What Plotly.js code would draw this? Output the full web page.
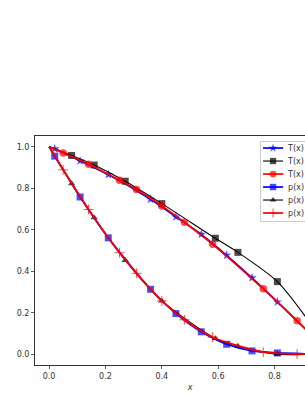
<!DOCTYPE html>
<html>
<head>
<meta charset="utf-8">
<script src="https://cdn.plot.ly/plotly-3.0.1.min.js"></script>
<style>
html,body{margin:0;padding:0;overflow:hidden;background:#fff;}
#chart{width:400px;height:394px;}
</style>
</head>
<body>
<div id="chart"></div>
<script>
// T(x), blue stars
const xTBlue = [0, 0.02, 0.11, 0.21, 0.36, 0.45, 0.54, 0.63, 0.72, 0.81, 0.95, 1.0];
const yTBlue = [1, 0.99, 0.932, 0.866, 0.747, 0.662, 0.578, 0.477, 0.368, 0.252, 0.068, 0.0];
// T(x), black squares
const xTBlack = [0, 0.08, 0.16, 0.27, 0.40, 0.59, 0.67, 0.81, 0.95, 1.0];
const yTBlack = [1, 0.958, 0.912, 0.834, 0.726, 0.559, 0.491, 0.350, 0.105, 0.0];
// T(x), red circles
const xTRed = [0, 0.05, 0.14, 0.25, 0.31, 0.40, 0.48, 0.58, 0.76, 0.88, 1.0];
const yTRed = [1, 0.970, 0.916, 0.839, 0.794, 0.715, 0.636, 0.530, 0.315, 0.161, 0.0];
// p(x), blue squares
const xPBlue = [0, 0.02, 0.11, 0.21, 0.36, 0.45, 0.54, 0.63, 0.72, 0.81, 0.95, 1.0];
const yPBlue = [1, 0.955, 0.758, 0.561, 0.313, 0.196, 0.108, 0.048, 0.016, 0.006, 0.001, 0.0];
// p(x), black triangles
const xPBlack = [0, 0.08, 0.16, 0.27, 0.40, 0.59, 0.67, 0.81, 0.95, 1.0];
const yPBlack = [1, 0.823, 0.658, 0.453, 0.257, 0.076, 0.039, 0.0, 0.0, 0.0];
// p(x), red pluses
const xPRed = [0, 0.05, 0.14, 0.25, 0.31, 0.40, 0.48, 0.58, 0.76, 0.88, 1.0];
const yPRed = [1, 0.889, 0.698, 0.489, 0.390, 0.257, 0.166, 0.082, 0.010, 0.001, 0.0];

const names = ["T(x)", "T(x)", "T(x)", "p(x)", "p(x)", "p(x)"];
const xTicks = [0, 0.2, 0.4, 0.6, 0.8, 1.0];
const yTicks = [0, 0.2, 0.4, 0.6, 0.8, 1.0];

function sizes(xs, s) { return xs.map((v, i) => i === 0 ? 0 : s); }

function tr(x, y, name, color, sym, msize, lw, extra) {
  const t = {
    x: x, y: y, name: name, type: 'scatter', mode: 'lines+markers',
    line: {color: color, width: lw, shape: 'spline', smoothing: 0.7},
    marker: {symbol: sym, size: sizes(x, msize), color: color, line: {width: 0}}
  };
  if (extra) Object.assign(t.marker, extra);
  return t;
}

const data = [
  tr(xTBlue, yTBlue, names[0], '#0000ff', 'star', 7, 1.7),
  tr(xTBlack, yTBlack, names[1], '#000000', 'square', 7, 1.1),
  tr(xTRed, yTRed, names[2], '#ff0000', 'circle', 7.5, 1.7),
  tr(xPBlue, yPBlue, names[3], '#0000ff', 'square', 7, 1.7),
  tr(xPBlack, yPBlack, names[4], '#000000', 'triangle-up', 6.5, 1.1),
  tr(xPRed, yPRed, names[5], '#ff0000', 'cross-thin', 7, 1.7, {line: {width: 1, color: '#ff0000'}})
];

const axisBase = {
  showgrid: false, zeroline: false, showline: true, mirror: true,
  linecolor: '#333', linewidth: 1,
  ticks: 'outside', ticklen: 3, tickwidth: 0.8, tickcolor: '#333',
  tickfont: {family: 'DejaVu Sans', size: 8, color: '#333'},
  tickformat: '.1f'
};

const layout = {
  width: 400, height: 394,
  margin: {l: 35, r: 55, t: 136, b: 29},
  paper_bgcolor: '#fff', plot_bgcolor: '#fff',
  showlegend: true,
  xaxis: Object.assign({}, axisBase, {
    range: [-0.05, 1.05], tickvals: xTicks,
    title: {text: '<i>x</i>', font: {family: 'DejaVu Sans', size: 8, color: '#333'}, standoff: 4}
  }),
  yaxis: Object.assign({}, axisBase, {range: [-0.052, 1.052], tickvals: yTicks}),
  legend: {
    x: 0.726, xanchor: 'left', y: 0.978, yanchor: 'top',
    bgcolor: 'rgba(255,255,255,0.8)', bordercolor: '#ccc', borderwidth: 1,
    font: {family: 'DejaVu Sans', size: 8, color: '#333'},
    itemwidth: 30
  }
};

Plotly.newPlot('chart', data, layout, {displayModeBar: false, staticPlot: true}).then(function () {
  // compact the legend to matplotlib-like spacing
  try {
    const leg = document.querySelector('g.legend');
    if (!leg) return;
    const items = leg.querySelectorAll('g.traces');
    const gap = 13, first = 7;
    items.forEach(function (g, i) {
      g.setAttribute('transform', 'translate(0,' + (first + i * gap) + ')');
      g.querySelectorAll('g.legendlines path').forEach(function (p) { p.setAttribute('d', 'M3,0h20'); });
      g.querySelectorAll('g.legendpoints path.scatterpts').forEach(function (p) { p.setAttribute('transform', 'translate(13,0)'); });
      g.querySelectorAll('text.legendtext').forEach(function (t) { t.setAttribute('x', 28); });
    });
    const h = first + (items.length - 1) * gap + 8;
    const bg = leg.querySelector('rect.bg');
    if (bg) bg.setAttribute('height', h);
    const sb = leg.querySelector('g.scrollbox');
    if (sb) {
      const cp = sb.getAttribute('clip-path');
      const m = cp && cp.match(/#([^)'"]+)/);
      if (m) {
        const cr = document.getElementById(m[1]);
        const r = cr && cr.querySelector('rect');
        if (r) r.setAttribute('height', h);
      }
    }
  } catch (e) {}
});
</script>
</body>
</html>
